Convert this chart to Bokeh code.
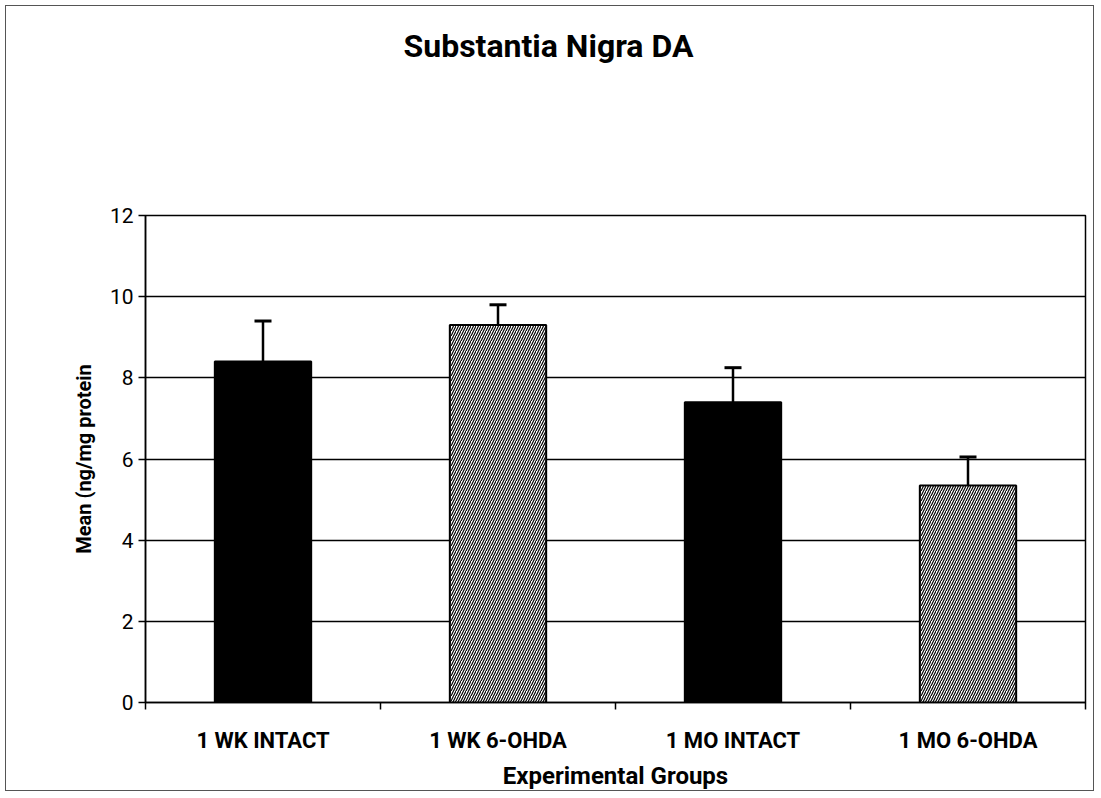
from bokeh.plotting import figure
from bokeh.models import (ColumnDataSource, Range1d, LinearAxis, Title,
                          FixedTicker, Whisker, TeeHead, Grid)
from bokeh.embed import file_html
from bokeh.resources import INLINE

# ---- data ----
categories = ["1 WK INTACT", "1 WK 6-OHDA", "1 MO INTACT", "1 MO 6-OHDA"]
means = [8.4, 9.3, 7.4, 5.35]
errors = [1.0, 0.5, 0.85, 0.7]
y_ticks = [0, 2, 4, 6, 8, 10, 12]
title_text = "Substantia Nigra DA"
y_label = "Mean (ng/mg protein"
x_label = "Experimental Groups"

fills = ["black", "white", "black", "white"]
hatches = [" ", "/", " ", "/"]

n = len(categories)
xs = [i + 0.5 for i in range(n)]
upper = [m + e for m, e in zip(means, errors)]

FONT = "Roboto"

src = ColumnDataSource(dict(x=xs, cat=categories, mean=means, upper=upper,
                            fill=fills, hatch=hatches))

W, H = 1089, 786
FL, FR, FT, FB = 139, 10, 209, 87   # borders around the plot frame

p = figure(width=W, height=H,
           x_range=Range1d(0, n),
           y_range=Range1d(0, y_ticks[-1]),
           output_backend="svg", toolbar_location=None,
           x_axis_location=None, y_axis_location=None,
           min_border_left=FL, min_border_right=FR,
           min_border_top=FT, min_border_bottom=FB)
p.center = []

p.outline_line_color = "black"
p.outline_line_width = 1.5
p.background_fill_color = "white"
p.border_fill_color = "white"
p.styles = {"border": "1px solid #555", "margin": "5px 0 0 5px"}

# spacer between frame and title, then the title itself
spacer = Title(text=" ", text_font_size="1px", standoff=147)
p.add_layout(spacer, "above")
title = Title(text=title_text, align="left", offset=258, standoff=0,
              vertical_align="middle",
              text_font=FONT, text_font_size="32px", text_font_style="bold",
              text_color="black")
p.add_layout(title, "above")

grid = Grid(dimension=1, ticker=FixedTicker(ticks=y_ticks[1:-1]),
            grid_line_color="black", grid_line_width=1.3)
p.add_layout(grid)

p.vbar(x="x", top="mean", bottom=0, width=0.41, source=src,
       fill_color="fill", line_color="black", line_width=2,
       hatch_pattern="hatch", hatch_color="black", hatch_scale=5,
       hatch_weight=1.2)

wh = Whisker(source=src, base="x", lower="mean", upper="upper",
             dimension="height", line_width=2.5, line_color="black",
             upper_head=TeeHead(size=17, line_width=3, line_color="black"),
             lower_head=None, level="overlay")
p.add_layout(wh)

yaxis = LinearAxis(ticker=FixedTicker(ticks=y_ticks),
                   axis_label=y_label,
                   axis_label_text_font=FONT, axis_label_text_font_size="20px",
                   axis_label_text_font_style="bold",
                   axis_label_text_color="black",
                   axis_label_standoff=11,
                   major_label_text_font=FONT, major_label_text_font_size="21px",
                   major_label_text_color="black",
                   major_label_standoff=5,
                   major_tick_out=7, major_tick_in=0,
                   minor_tick_line_color=None,
                   axis_line_color="black", axis_line_width=1.5,
                   major_tick_line_color="black", major_tick_line_width=1.5)
p.add_layout(yaxis, "left")

tick_axis = LinearAxis(ticker=FixedTicker(ticks=list(range(n + 1))),
                       major_label_overrides={i: "" for i in range(n + 1)},
                       major_label_text_font_size="1px",
                       major_label_standoff=0,
                       major_tick_out=7, major_tick_in=0,
                       minor_tick_line_color=None,
                       axis_line_color="black", axis_line_width=1.5,
                       major_tick_line_color="black", major_tick_line_width=1.5)
p.add_layout(tick_axis, "below")

cat_axis = LinearAxis(ticker=FixedTicker(ticks=xs),
                      major_label_overrides={x: c for x, c in zip(xs, categories)},
                      axis_label=x_label,
                      axis_line_color=None, major_tick_line_color=None,
                      minor_tick_line_color=None,
                      major_label_text_font=FONT,
                      major_label_text_font_size="22px",
                      major_label_text_font_style="bold",
                      major_label_text_color="black",
                      major_label_standoff=12,
                      axis_label_text_font=FONT,
                      axis_label_text_font_size="24px",
                      axis_label_text_font_style="bold",
                      axis_label_text_color="black",
                      axis_label_standoff=6)
p.add_layout(cat_axis, "below")

open("out.html", "w").write(file_html(p, INLINE))
